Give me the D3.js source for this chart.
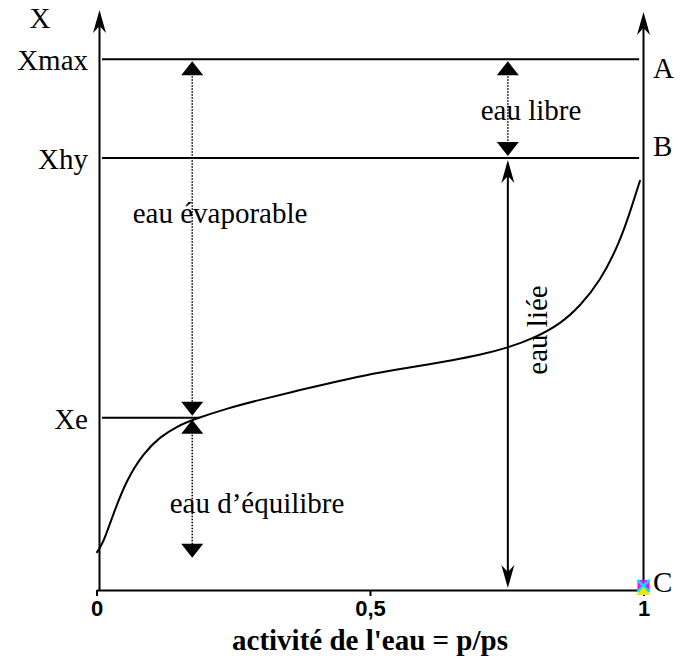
<!DOCTYPE html>
<html>
<head>
<meta charset="utf-8">
<script src="https://cdn.jsdelivr.net/npm/d3@7"></script>
<style>
  body { margin: 0; background: #fff; }
</style>
</head>
<body>
<div id="chart"></div>
<script>
// sorption isotherm (activity, water content)
const curveActivity = [0, 0.012, 0.031, 0.055, 0.086, 0.116, 0.147, 0.177, 0.238, 0.299, 0.36, 0.409, 0.5, 0.55, 0.6, 0.65, 0.7, 0.75, 0.8, 0.85, 0.884, 0.92, 0.957, 0.979, 0.994];
const curveWater = [0.64, 0.8, 1.32, 1.9, 2.36, 2.64, 2.82, 2.94, 3.13, 3.28, 3.42, 3.53, 3.72, 3.8, 3.88, 3.96, 4.05, 4.17, 4.34, 4.6, 4.9, 5.31, 6.0, 6.62, 7.07];

const levelNames = ["Xmax", "Xhy", "Xe"];
const levelValues = [9.15, 7.45, 2.97];
const sideLabels = ["A", "B", "C"];
const sideValues = [9.0, 7.65, 0.14];

const tickValues = [0, 0.5, 1];
const tickLabels = ["0", "0,5", "1"];

const dottedArrowActivity = [0.175, 0.752];
const boundArrowActivity = 0.752;
const equilibriumBottom = 0.52;

const width = 681;
const height = 659;

const x = d3.scaleLinear().domain([0, 1]).range([96.5, 643.5]);
const y = d3.scaleLinear().domain([0, 10]).range([590, 10]);

const svg = d3
  .select("#chart")
  .append("svg")
  .attr("width", width)
  .attr("height", height)
  .attr("viewBox", [0, 0, width, height]);

const serif = "'Liberation Serif', 'Times New Roman', serif";
const sans = "'Liberation Sans', Arial, sans-serif";

// stealth arrowhead, dir = 1 points up, -1 points down
const stealth = (tx, ty, dir, len = 23, half = 6.5, notch = 7) =>
  `M${tx},${ty} L${tx - half},${ty + len * dir} L${tx},${ty + (len - notch) * dir} L${tx + half},${ty + len * dir} Z`;

const triangle = (tx, ty, dir, h = 14, half = 11) =>
  `M${tx},${ty} L${tx - half},${ty + h * dir} L${tx + half},${ty + h * dir} Z`;

// x axis
svg
  .append("g")
  .attr("transform", `translate(0,${y(0)})`)
  .call(
    d3.axisBottom(x)
      .tickValues(tickValues)
      .tickFormat((d, i) => tickLabels[i])
      .tickSizeInner(6)
      .tickSizeOuter(0)
      .tickPadding(4)
  )
  .call((g) => g.select(".domain").attr("stroke", "#000").attr("stroke-width", 2))
  .call((g) => g.selectAll("line").attr("stroke", "#000").attr("stroke-width", 2))
  .call((g) =>
    g.selectAll("text")
      .attr("fill", "#000")
      .style("font-family", sans)
      .style("font-weight", "bold")
      .style("font-size", "22px")
  );

// vertical axes
const axisTop = y.invert(10);
svg.append("line")
  .attr("x1", x(0) + 3).attr("x2", x(0) + 3)
  .attr("y1", y(0)).attr("y2", y(axisTop) + 12)
  .attr("stroke", "#000").attr("stroke-width", 2);
svg.append("path").attr("d", stealth(x(0) + 3, y(axisTop), 1)).attr("fill", "#000");

svg.append("line")
  .attr("x1", x(1)).attr("x2", x(1))
  .attr("y1", y(0)).attr("y2", y(axisTop) + 12)
  .attr("stroke", "#000").attr("stroke-width", 2);
svg.append("path").attr("d", stealth(x(1), y(axisTop) + 2, 1)).attr("fill", "#000");

svg.append("text")
  .attr("x", 40).attr("y", 18)
  .attr("text-anchor", "middle").attr("dominant-baseline", "central")
  .style("font-family", serif).style("font-size", "29px")
  .text("X");

// level lines
const lineEnds = [0.992, 0.992, 0.188];
levelValues.forEach((v, i) => {
  svg.append("line")
    .attr("x1", x(0.01)).attr("x2", x(lineEnds[i]))
    .attr("y1", y(v)).attr("y2", y(v))
    .attr("stroke", "#000").attr("stroke-width", 2);
  svg.append("text")
    .attr("x", 88).attr("y", y(v) + 1)
    .attr("text-anchor", "end").attr("dominant-baseline", "central")
    .style("font-family", serif).style("font-size", "29px")
    .text(levelNames[i]);
});

sideLabels.forEach((s, i) => {
  svg.append("text")
    .attr("x", 653).attr("y", y(sideValues[i]))
    .attr("dominant-baseline", "central")
    .style("font-family", serif).style("font-size", "29px")
    .text(s);
});

// isotherm
const line = d3.line()
  .x((d, i) => x(curveActivity[i]))
  .y((d) => y(d))
  .curve(d3.curveBasis);
svg.append("path")
  .datum(curveWater)
  .attr("d", line)
  .attr("fill", "none")
  .attr("stroke", "#000")
  .attr("stroke-width", 2);

// dotted double arrows
const dotted = (a, top, bottom) => {
  const cx = x(a);
  svg.append("line")
    .attr("x1", cx).attr("x2", cx)
    .attr("y1", y(top) + 14).attr("y2", y(bottom) - 14)
    .attr("stroke", "#000").attr("stroke-width", 1.5)
    .attr("stroke-dasharray", "1.5,1.5");
  svg.append("path").attr("d", triangle(cx, y(top) + 2, 1)).attr("fill", "#000");
  svg.append("path").attr("d", triangle(cx, y(bottom) - 2, -1)).attr("fill", "#000");
};
dotted(dottedArrowActivity[0], levelValues[0], levelValues[2]);
dotted(dottedArrowActivity[0], levelValues[2], equilibriumBottom);
dotted(dottedArrowActivity[1], levelValues[0], levelValues[1]);

// solid double arrow: bound water
const bx = x(boundArrowActivity);
svg.append("line")
  .attr("x1", bx).attr("x2", bx)
  .attr("y1", y(levelValues[1]) + 10).attr("y2", y(0) - 10)
  .attr("stroke", "#000").attr("stroke-width", 2);
svg.append("path").attr("d", stealth(bx, y(levelValues[1]) + 2, 1)).attr("fill", "#000");
svg.append("path").attr("d", stealth(bx, y(0) - 2, -1)).attr("fill", "#000");

// annotations
const note = (tx, ty, txt, rot = 0) =>
  svg.append("text")
    .attr("transform", `translate(${tx},${ty}) rotate(${rot})`)
    .attr("text-anchor", "middle").attr("dominant-baseline", "central")
    .style("font-family", serif).style("font-size", "29px")
    .text(txt);
note(220, 213, "eau évaporable");
note(531, 110, "eau libre");
note(257, 503, "eau d’équilibre");
note(537, 330, "eau liée", -90);

// stray series marker at C
const mx = x(1), my = y(0) - 4;
svg.append("rect").attr("x", mx - 6).attr("y", my - 6).attr("width", 12).attr("height", 12).attr("fill", "#ff00ff");
svg.append("path").attr("d", `M${mx - 6},${my - 6} L${mx + 6},${my + 6} M${mx + 6},${my - 6} L${mx - 6},${my + 6}`)
  .attr("stroke", "#00e5ff").attr("stroke-width", 2.5);
svg.append("path").attr("d", `M${mx},${my + 1} L${mx - 7},${my + 9} L${mx + 7},${my + 9} Z`).attr("fill", "#e8e800");

// axis title
svg.append("text")
  .attr("x", x(0.5)).attr("y", 640)
  .attr("text-anchor", "middle").attr("dominant-baseline", "central")
  .style("font-family", serif).style("font-weight", "bold").style("font-size", "29px")
  .text("activité de l'eau = p/ps");
</script>
</body>
</html>
